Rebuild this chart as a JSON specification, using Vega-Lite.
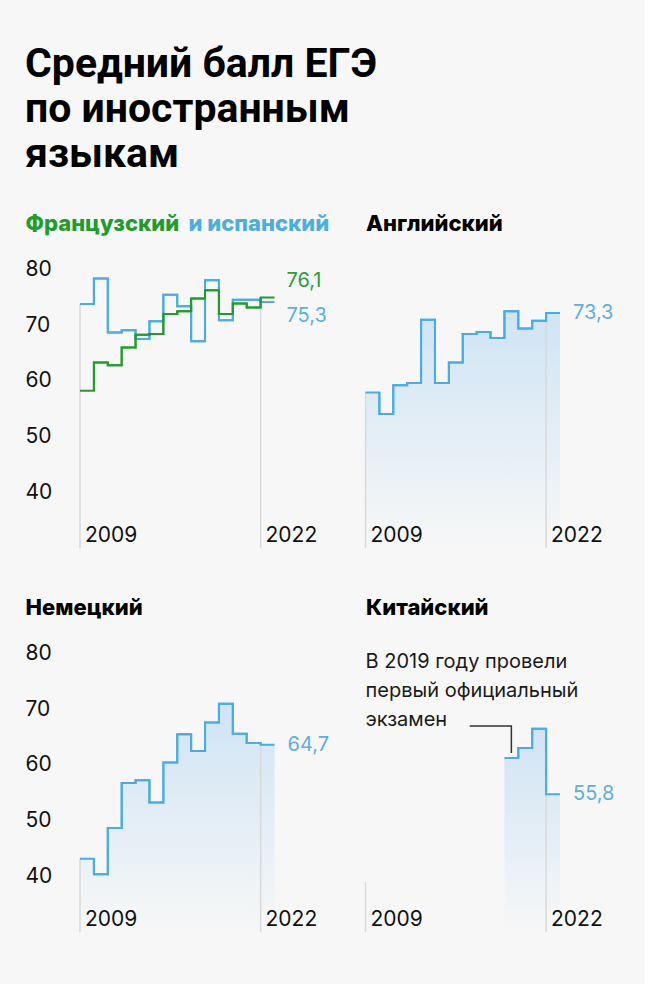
{
  "$schema": "https://vega.github.io/schema/vega-lite/v6.json",
  "background": "#f7f7f7",
  "padding": {"left": 25, "top": 44, "right": 30, "bottom": 52},
  "title": {"text": ["Средний балл ЕГЭ", "по иностранным", "языкам"], "anchor": "start", "font": "Roboto", "fontSize": 41, "fontWeight": "bold", "lineHeight": 45, "offset": 36, "color": "#000000"},
  "columns": 2,
  "bounds": "flush",
  "spacing": {"row": 84, "column": 90.5},
  "datasets": {
    "fr": [
      {"year": 2009, "v": 59.3}, {"year": 2010, "v": 64.4}, {"year": 2011, "v": 63.9}, {"year": 2012, "v": 67.1},
      {"year": 2013, "v": 69.4}, {"year": 2014, "v": 69.5}, {"year": 2015, "v": 73.1}, {"year": 2016, "v": 73.6},
      {"year": 2017, "v": 75.9}, {"year": 2018, "v": 77.4}, {"year": 2019, "v": 73.1}, {"year": 2020, "v": 75.0},
      {"year": 2021, "v": 74.3}, {"year": 2022, "v": 76.1}
    ],
    "es": [
      {"year": 2009, "v": 74.9}, {"year": 2010, "v": 79.5}, {"year": 2011, "v": 69.8}, {"year": 2012, "v": 70.2},
      {"year": 2013, "v": 68.6}, {"year": 2014, "v": 71.8}, {"year": 2015, "v": 76.6}, {"year": 2016, "v": 74.5},
      {"year": 2017, "v": 68.2}, {"year": 2018, "v": 79.2}, {"year": 2019, "v": 72.0}, {"year": 2020, "v": 75.7},
      {"year": 2021, "v": 75.7}, {"year": 2022, "v": 75.3}
    ],
    "en": [
      {"year": 2009, "v": 59.0}, {"year": 2010, "v": 55.1}, {"year": 2011, "v": 60.3}, {"year": 2012, "v": 60.7},
      {"year": 2013, "v": 72.1}, {"year": 2014, "v": 60.7}, {"year": 2015, "v": 64.4}, {"year": 2016, "v": 69.5},
      {"year": 2017, "v": 69.9}, {"year": 2018, "v": 68.8}, {"year": 2019, "v": 73.6}, {"year": 2020, "v": 70.5},
      {"year": 2021, "v": 71.9}, {"year": 2022, "v": 73.3}
    ],
    "de": [
      {"year": 2009, "v": 44.2}, {"year": 2010, "v": 41.4}, {"year": 2011, "v": 49.7}, {"year": 2012, "v": 57.8},
      {"year": 2013, "v": 58.3}, {"year": 2014, "v": 54.3}, {"year": 2015, "v": 61.5}, {"year": 2016, "v": 66.6},
      {"year": 2017, "v": 63.6}, {"year": 2018, "v": 68.7}, {"year": 2019, "v": 72.1}, {"year": 2020, "v": 66.7},
      {"year": 2021, "v": 65.0}, {"year": 2022, "v": 64.7}
    ],
    "zh": [
      {"year": 2019, "v": 62.3}, {"year": 2020, "v": 64.1}, {"year": 2021, "v": 67.6}, {"year": 2022, "v": 55.8}
    ],
    "guides": [
      {"p": 1, "year": 2009, "v": 74.9}, {"p": 1, "year": 2022, "v": 75.3},
      {"p": 2, "year": 2009, "v": 59.0}, {"p": 2, "year": 2022, "v": 73.3},
      {"p": 3, "year": 2009, "v": 44.2}, {"p": 3, "year": 2022, "v": 64.7},
      {"p": 4, "year": 2009, "v": 40.0}, {"p": 4, "year": 2022, "v": 55.8}
    ],
    "note": [
      {"year": 2009, "v": 78.5, "text": ["В 2019 году провели", "первый официальный", "экзамен"]}
    ],
    "conn": [
      {"o": 1, "year": 2016, "v": 68.1}, {"o": 2, "year": 2019, "v": 68.1}, {"o": 3, "year": 2019, "v": 63.2}
    ]
  },
  "concat": [
    {
      "width": 194.5, "height": 300,
      "layer": [
        {"data": {"name": "guides"}, "transform": [{"filter": "datum.p == 1"}],
         "mark": {"type": "rule", "color": "#d9d9d9", "strokeWidth": 1.5},
         "encoding": {
           "x": {"field": "year", "type": "ordinal", "bandPosition": 0, "scale": {"type": "band", "domain": [2009,2010,2011,2012,2013,2014,2015,2016,2017,2018,2019,2020,2021,2022], "paddingInner": 0, "paddingOuter": 0}, "axis": {"values": [2009, 2022], "zindex": 2, "title": "и испанский", "titleColor": "#4aaee0", "titleFontWeight": 800, "titleFontSize": 22, "titleAngle": 0, "titleAlign": "left", "titleBaseline": "alphabetic", "titleX": 108, "titleY": -318}},
           "y": {"field": "v", "type": "quantitative", "scale": {"domain": [31, 85], "nice": false, "zero": false}, "axis": {"values": [40, 50, 60, 70, 80], "title": "Французский", "titleColor": "#1f9d2c", "titleFontWeight": 800, "titleFontSize": 22, "titleAngle": 0, "titleAlign": "left", "titleBaseline": "alphabetic", "titleX": -55, "titleY": -18}},
           "y2": {"datum": 31}
         }},
        {"data": {"name": "es"}, "mark": {"type": "line", "interpolate": "step-after", "color": "#48ace6", "strokeWidth": 2},
         "encoding": {"x": {"field": "year", "type": "ordinal", "bandPosition": 0}, "y": {"field": "v", "type": "quantitative"}}},
        {"data": {"name": "es"}, "mark": {"type": "line", "interpolate": "step-before", "color": "#48ace6", "strokeWidth": 2},
         "encoding": {"x": {"field": "year", "type": "ordinal", "bandPosition": 1}, "y": {"field": "v", "type": "quantitative"}}},
        {"data": {"name": "fr"}, "mark": {"type": "line", "interpolate": "step-after", "color": "#1f9d2c", "strokeWidth": 2},
         "encoding": {"x": {"field": "year", "type": "ordinal", "bandPosition": 0}, "y": {"field": "v", "type": "quantitative"}}},
        {"data": {"name": "fr"}, "mark": {"type": "line", "interpolate": "step-before", "color": "#1f9d2c", "strokeWidth": 2},
         "encoding": {"x": {"field": "year", "type": "ordinal", "bandPosition": 1}, "y": {"field": "v", "type": "quantitative"}}},
        {"data": {"name": "fr"}, "transform": [{"filter": "datum.year == 2022"}],
         "mark": {"type": "text", "align": "left", "baseline": "middle", "dx": 12, "dy": -16, "fontSize": 20, "color": "#2a9d35"},
         "encoding": {"x": {"field": "year", "type": "ordinal", "bandPosition": 1}, "y": {"field": "v", "type": "quantitative"}, "text": {"field": "v", "type": "quantitative", "format": ".1f"}}},
        {"data": {"name": "es"}, "transform": [{"filter": "datum.year == 2022"}],
         "mark": {"type": "text", "align": "left", "baseline": "middle", "dx": 12, "dy": 14, "fontSize": 20, "color": "#5bb0e0"},
         "encoding": {"x": {"field": "year", "type": "ordinal", "bandPosition": 1}, "y": {"field": "v", "type": "quantitative"}, "text": {"field": "v", "type": "quantitative", "format": ".1f"}}}
      ]
    },
    {
      "width": 194.5, "height": 300,
      "layer": [
        {"data": {"name": "en"}, "mark": {"type": "area", "interpolate": "step-after", "color": {"gradient": "linear", "x1": 0, "y1": 0, "x2": 0, "y2": 1, "stops": [{"offset": 0, "color": "#cfe4f5"}, {"offset": 1, "color": "#f7f7f7"}]}},
         "encoding": {
           "x": {"field": "year", "type": "ordinal", "bandPosition": 0, "scale": {"type": "band", "domain": [2009,2010,2011,2012,2013,2014,2015,2016,2017,2018,2019,2020,2021,2022], "paddingInner": 0, "paddingOuter": 0}, "axis": {"values": [2009, 2022], "zindex": 2, "title": null}},
           "y": {"field": "v", "type": "quantitative", "scale": {"domain": [31, 85], "nice": false, "zero": false}, "axis": {"labels": false, "title": "Английский", "titleColor": "#000000", "titleFontWeight": 800, "titleFontSize": 22, "titleAngle": 0, "titleAlign": "left", "titleBaseline": "alphabetic", "titleX": 0, "titleY": -18}},
           "y2": {"datum": 31}
         }},
        {"data": {"name": "en"}, "mark": {"type": "area", "interpolate": "step-before", "color": {"gradient": "linear", "x1": 0, "y1": 0, "x2": 0, "y2": 1, "stops": [{"offset": 0, "color": "#cfe4f5"}, {"offset": 1, "color": "#f7f7f7"}]}},
         "encoding": {"x": {"field": "year", "type": "ordinal", "bandPosition": 1}, "y": {"field": "v", "type": "quantitative"}, "y2": {"datum": 31}}},
        {"data": {"name": "guides"}, "transform": [{"filter": "datum.p == 2"}],
         "mark": {"type": "rule", "color": "#d9d9d9", "strokeWidth": 1.5},
         "encoding": {"x": {"field": "year", "type": "ordinal", "bandPosition": 0}, "y": {"field": "v", "type": "quantitative"}, "y2": {"datum": 31}}},
        {"data": {"name": "en"}, "mark": {"type": "line", "interpolate": "step-after", "color": "#48ace6", "strokeWidth": 2},
         "encoding": {"x": {"field": "year", "type": "ordinal", "bandPosition": 0}, "y": {"field": "v", "type": "quantitative"}}},
        {"data": {"name": "en"}, "mark": {"type": "line", "interpolate": "step-before", "color": "#48ace6", "strokeWidth": 2},
         "encoding": {"x": {"field": "year", "type": "ordinal", "bandPosition": 1}, "y": {"field": "v", "type": "quantitative"}}},
        {"data": {"name": "en"}, "transform": [{"filter": "datum.year == 2022"}],
         "mark": {"type": "text", "align": "left", "baseline": "middle", "dx": 13, "fontSize": 20, "color": "#5bb0e0"},
         "encoding": {"x": {"field": "year", "type": "ordinal", "bandPosition": 1}, "y": {"field": "v", "type": "quantitative"}, "text": {"field": "v", "type": "quantitative", "format": ".1f"}}}
      ]
    },
    {
      "width": 194.5, "height": 300,
      "layer": [
        {"data": {"name": "de"}, "mark": {"type": "area", "interpolate": "step-after", "color": {"gradient": "linear", "x1": 0, "y1": 0, "x2": 0, "y2": 1, "stops": [{"offset": 0, "color": "#cfe4f5"}, {"offset": 1, "color": "#f7f7f7"}]}},
         "encoding": {
           "x": {"field": "year", "type": "ordinal", "bandPosition": 0, "scale": {"type": "band", "domain": [2009,2010,2011,2012,2013,2014,2015,2016,2017,2018,2019,2020,2021,2022], "paddingInner": 0, "paddingOuter": 0}, "axis": {"values": [2009, 2022], "zindex": 2, "title": null}},
           "y": {"field": "v", "type": "quantitative", "scale": {"domain": [31, 85], "nice": false, "zero": false}, "axis": {"values": [40, 50, 60, 70, 80], "title": "Немецкий", "titleColor": "#000000", "titleFontWeight": 800, "titleFontSize": 22, "titleAngle": 0, "titleAlign": "left", "titleBaseline": "alphabetic", "titleX": -55, "titleY": -18}},
           "y2": {"datum": 31}
         }},
        {"data": {"name": "de"}, "mark": {"type": "area", "interpolate": "step-before", "color": {"gradient": "linear", "x1": 0, "y1": 0, "x2": 0, "y2": 1, "stops": [{"offset": 0, "color": "#cfe4f5"}, {"offset": 1, "color": "#f7f7f7"}]}},
         "encoding": {"x": {"field": "year", "type": "ordinal", "bandPosition": 1}, "y": {"field": "v", "type": "quantitative"}, "y2": {"datum": 31}}},
        {"data": {"name": "guides"}, "transform": [{"filter": "datum.p == 3"}],
         "mark": {"type": "rule", "color": "#d9d9d9", "strokeWidth": 1.5},
         "encoding": {"x": {"field": "year", "type": "ordinal", "bandPosition": 0}, "y": {"field": "v", "type": "quantitative"}, "y2": {"datum": 31}}},
        {"data": {"name": "de"}, "mark": {"type": "line", "interpolate": "step-after", "color": "#48ace6", "strokeWidth": 2},
         "encoding": {"x": {"field": "year", "type": "ordinal", "bandPosition": 0}, "y": {"field": "v", "type": "quantitative"}}},
        {"data": {"name": "de"}, "mark": {"type": "line", "interpolate": "step-before", "color": "#48ace6", "strokeWidth": 2},
         "encoding": {"x": {"field": "year", "type": "ordinal", "bandPosition": 1}, "y": {"field": "v", "type": "quantitative"}}},
        {"data": {"name": "de"}, "transform": [{"filter": "datum.year == 2022"}],
         "mark": {"type": "text", "align": "left", "baseline": "middle", "dx": 13, "fontSize": 20, "color": "#5bb0e0"},
         "encoding": {"x": {"field": "year", "type": "ordinal", "bandPosition": 1}, "y": {"field": "v", "type": "quantitative"}, "text": {"field": "v", "type": "quantitative", "format": ".1f"}}}
      ]
    },
    {
      "width": 194.5, "height": 300,
      "layer": [
        {"data": {"name": "zh"}, "mark": {"type": "area", "interpolate": "step-after", "color": {"gradient": "linear", "x1": 0, "y1": 0, "x2": 0, "y2": 1, "stops": [{"offset": 0, "color": "#cfe4f5"}, {"offset": 1, "color": "#f7f7f7"}]}},
         "encoding": {
           "x": {"field": "year", "type": "ordinal", "bandPosition": 0, "scale": {"type": "band", "domain": [2009,2010,2011,2012,2013,2014,2015,2016,2017,2018,2019,2020,2021,2022], "paddingInner": 0, "paddingOuter": 0}, "axis": {"values": [2009, 2022], "zindex": 2, "title": null}},
           "y": {"field": "v", "type": "quantitative", "scale": {"domain": [31, 85], "nice": false, "zero": false}, "axis": {"labels": false, "title": "Китайский", "titleColor": "#000000", "titleFontWeight": 800, "titleFontSize": 22, "titleAngle": 0, "titleAlign": "left", "titleBaseline": "alphabetic", "titleX": 0, "titleY": -18}},
           "y2": {"datum": 31}
         }},
        {"data": {"name": "zh"}, "mark": {"type": "area", "interpolate": "step-before", "color": {"gradient": "linear", "x1": 0, "y1": 0, "x2": 0, "y2": 1, "stops": [{"offset": 0, "color": "#cfe4f5"}, {"offset": 1, "color": "#f7f7f7"}]}},
         "encoding": {"x": {"field": "year", "type": "ordinal", "bandPosition": 1}, "y": {"field": "v", "type": "quantitative"}, "y2": {"datum": 31}}},
        {"data": {"name": "guides"}, "transform": [{"filter": "datum.p == 4"}],
         "mark": {"type": "rule", "color": "#d9d9d9", "strokeWidth": 1.5},
         "encoding": {"x": {"field": "year", "type": "ordinal", "bandPosition": 0}, "y": {"field": "v", "type": "quantitative"}, "y2": {"datum": 31}}},
        {"data": {"name": "zh"}, "mark": {"type": "line", "interpolate": "step-after", "color": "#48ace6", "strokeWidth": 2},
         "encoding": {"x": {"field": "year", "type": "ordinal", "bandPosition": 0}, "y": {"field": "v", "type": "quantitative"}}},
        {"data": {"name": "zh"}, "mark": {"type": "line", "interpolate": "step-before", "color": "#48ace6", "strokeWidth": 2},
         "encoding": {"x": {"field": "year", "type": "ordinal", "bandPosition": 1}, "y": {"field": "v", "type": "quantitative"}}},
        {"data": {"name": "zh"}, "transform": [{"filter": "datum.year == 2022"}],
         "mark": {"type": "text", "align": "left", "baseline": "middle", "dx": 13, "fontSize": 20, "color": "#5bb0e0"},
         "encoding": {"x": {"field": "year", "type": "ordinal", "bandPosition": 1}, "y": {"field": "v", "type": "quantitative"}, "text": {"field": "v", "type": "quantitative", "format": ".1f"}}},
        {"data": {"name": "conn"}, "mark": {"type": "line", "color": "#333333", "strokeWidth": 1.5},
         "encoding": {"x": {"field": "year", "type": "ordinal", "bandPosition": 0.5}, "y": {"field": "v", "type": "quantitative"}, "order": {"field": "o", "type": "quantitative"}}},
        {"data": {"name": "note"}, "mark": {"type": "text", "align": "left", "baseline": "alphabetic", "fontSize": 20, "lineHeight": 29, "color": "#1a1a1a"},
         "encoding": {"x": {"field": "year", "type": "ordinal", "bandPosition": 0}, "y": {"field": "v", "type": "quantitative"}, "text": {"field": "text"}}}
      ]
    }
  ],
  "config": {
    "view": {"stroke": null},
    "font": "Inter",
    "locale": {"number": {"decimal": ",", "thousands": " ", "grouping": [3], "currency": ["", ""]}},
    "axis": {"domain": false, "ticks": false, "grid": false, "labelFont": "Inter", "labelFontSize": 21, "labelColor": "#111111", "titleFont": "Inter"},
    "axisX": {"labelAngle": 0, "labelAlign": "left", "labelBaseline": "alphabetic", "labelPadding": -7, "labelOffset": -2, "labelOverlap": false, "labelBound": false, "labelFlush": false},
    "axisY": {"labelAlign": "left", "labelBaseline": "alphabetic", "labelPadding": 55}
  }
}
